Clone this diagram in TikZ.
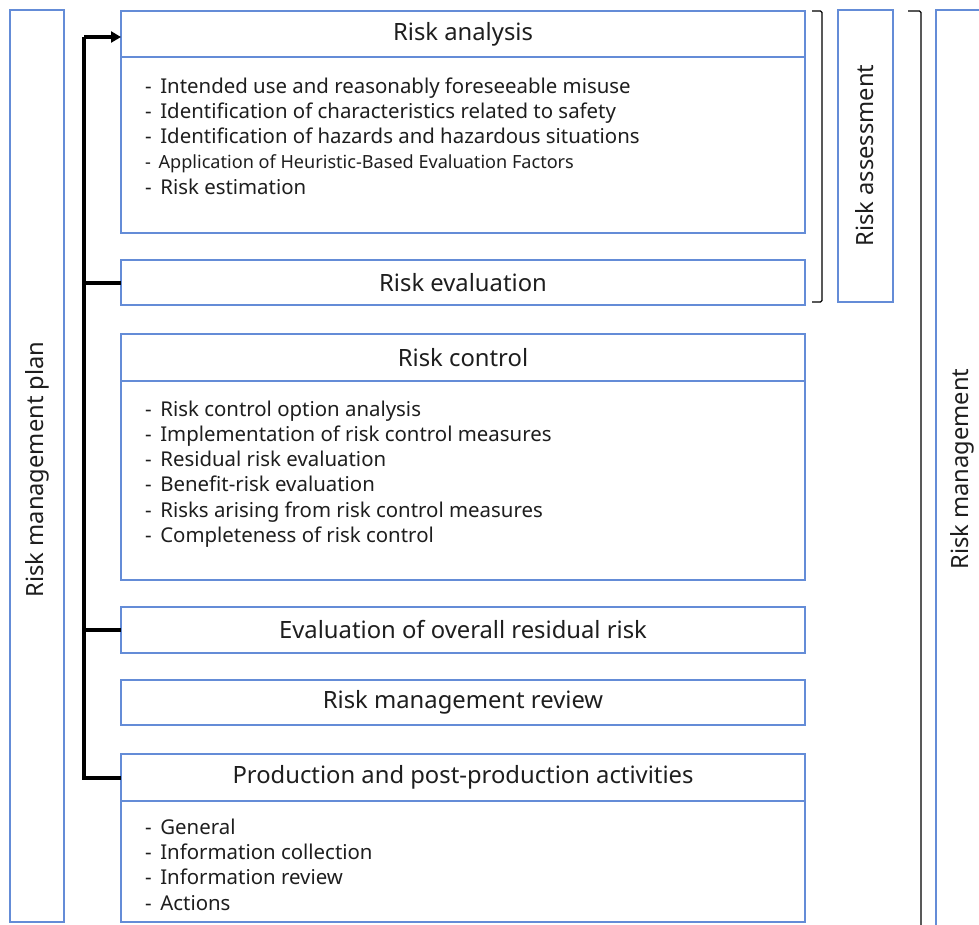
\documentclass[tikz,border=0pt]{standalone}
\usepackage{fontspec}
\setmainfont{Noto Sans}
\usetikzlibrary{arrows.meta}
\definecolor{boxblue}{RGB}{100,140,215}
\definecolor{txt}{RGB}{30,30,30}
\newcommand{\dashitem}[1]{-\hspace{0.42em}#1}
\tikzset{
  box/.style={draw=boxblue, line width=1.3pt, inner sep=0pt, outer sep=0pt, fill=white},
  head/.style={box, minimum width=684pt, font=\fontsize{23.8}{28}\selectfont, text=txt},
  item/.style={anchor=base west, inner sep=0pt, font=\fontsize{20.4}{25}\selectfont, text=txt},
  small item/.style={item, font=\fontsize{18.1}{22}\selectfont},
  side/.style={box},
  sidetxt/.style={rotate=90, font=\fontsize{23.7}{28}\selectfont, text=txt},
  conn/.style={line width=4pt, line join=miter},
  brk/.style={line width=1.1pt, rounded corners=1.5pt, black}
}
\begin{document}
\begin{tikzpicture}[x=1pt,y=-1pt]
\useasboundingbox (0,0) rectangle (979,924);
\clip (0,0) rectangle (979,924);
\fill[white] (0,0) rectangle (979,924);

% left plan box
\node[side, minimum width=54pt, minimum height=912pt] (plan) at (37,466) {};
\node[sidetxt] (plantxt) at (37,469.5) {Risk management plan};

% Risk analysis
\node[head, minimum height=46pt] (ra) at (463,34) {Risk analysis};
\node[box, minimum width=684pt, minimum height=176pt, anchor=north] (rab) at (ra.south) {};
\node[item] (ra1) at (145,93.3) {\dashitem{Intended use and reasonably foreseeable misuse}};
\node[item] (ra2) at (145,118.3) {\dashitem{Identification of characteristics related to safety}};
\node[item] (ra3) at (145,143.3) {\dashitem{Identification of hazards and hazardous situations}};
\node[small item] (ra4) at (145,168.3) {\dashitem{Application of Heuristic-Based Evaluation Factors}};
\node[item] (ra5) at (145,194.3) {\dashitem{Risk estimation}};

% Risk evaluation
\node[head, minimum height=45pt] (re) at (463,282.5) {Risk evaluation};

% Risk control
\node[head, minimum height=47pt] (rc) at (463,357.5) {Risk control};
\node[box, minimum width=684pt, minimum height=199pt, anchor=north] (rcb) at (rc.south) {};
\node[item] (rc1) at (145,416) {\dashitem{Risk control option analysis}};
\node[item] (rc2) at (145,441) {\dashitem{Implementation of risk control measures}};
\node[item] (rc3) at (145,466) {\dashitem{Residual risk evaluation}};
\node[item] (rc4) at (145,491) {\dashitem{Benefit-risk evaluation}};
\node[item] (rc5) at (145,517) {\dashitem{Risks arising from risk control measures}};
\node[item] (rc6) at (145,542) {\dashitem{Completeness of risk control}};

% Evaluation of overall residual risk
\node[head, minimum height=46pt] (eo) at (463,630) {Evaluation of overall residual risk};

% Risk management review
\node[head, minimum height=45pt] (rm) at (463,702.5) {Risk management review};

% Production
\node[head, minimum height=47pt] (pp) at (463,777.5) {Production and post-production activities};
\node[box, minimum width=684pt, minimum height=121pt, anchor=north] (ppb) at (pp.south) {};
\node[item] (pp1) at (145,834) {\dashitem{General}};
\node[item] (pp2) at (145,859) {\dashitem{Information collection}};
\node[item] (pp3) at (145,884) {\dashitem{Information review}};
\node[item] (pp4) at (145,910) {\dashitem{Actions}};

% connectors
\coordinate (spinetop) at (84,37);
\draw[conn, -{Triangle[length=10pt,width=11pt]}] (spinetop) -- (spinetop -| ra.west);
\draw[conn] (spinetop) -- (spinetop |- pp.west) -- (pp.west);
\draw[conn] (re.west -| spinetop) -- (re.west);
\draw[conn] (eo.west -| spinetop) -- (eo.west);

% brackets
\coordinate (b1a) at (812,11);
\coordinate (b1b) at (812,302);
\draw[brk] (b1a) -- ++(10,0) |- (b1b);
\coordinate (b2a) at (908,11);
\coordinate (b2b) at (921,930);
\draw[brk] (b2a) -| (b2b);

% Risk assessment
\node[side, minimum width=55pt, minimum height=292pt] (ras) at (865.5,156) {};
\node[sidetxt] (rastxt) at (865,155.5) {Risk assessment};

% Risk management
\node[side, minimum width=80pt, minimum height=930pt, anchor=north west] (rmg) at (936,10) {};
\node[sidetxt] (rmgtxt) at (962,469) {Risk management};
\end{tikzpicture}
\end{document}
